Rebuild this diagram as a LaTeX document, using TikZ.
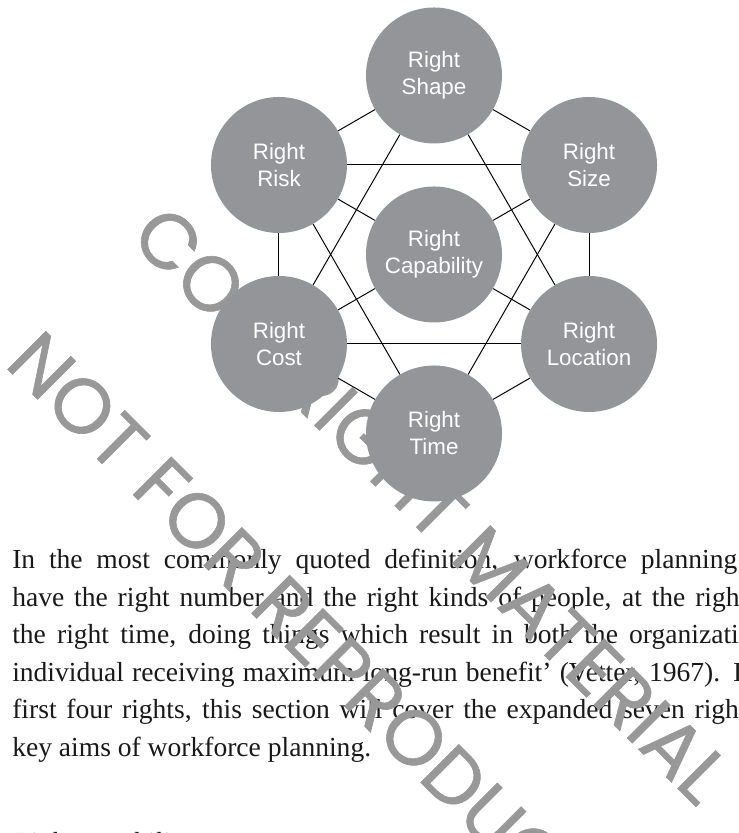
\documentclass[tikz,border=0pt]{standalone}
\usepackage{fontspec}
\setmainfont{Liberation Serif}
\newfontfamily\labelfont{Liberation Sans}
\newfontfamily\markfont{Poppins}[FakeBold=0.8]
\definecolor{discgray}{RGB}{147,149,152}
\definecolor{markgray}{RGB}{152,152,152}
\begin{document}
\begin{tikzpicture}[
    disc/.style={circle, fill=discgray, minimum size=3.4cm, inner sep=0pt,
        text=white, align=center, font=\labelfont\fontsize{15.9}{19.2}\selectfont},
    link/.style={black, line width=0.7pt},
    bodyline/.style={anchor=base west, inner sep=0pt, text=black!90,
        font=\fontsize{19.6}{26.6}\selectfont},
    stamp/.style={anchor=base west, inner sep=0pt, rotate=-45, text=markgray,
        font=\markfont\fontsize{55}{60}\selectfont}
]
    \useasboundingbox (0,0) rectangle (18.45,20.825);
    \clip (0,0) rectangle (18.45,20.825);

    % Paragraph under the figure (runs off the right edge)
    \node[bodyline] (line1) at (0.3,6.6)    {\makebox[18.125cm][s]{In the most commonly quoted definition, workforce planning}};
    \node[bodyline] (line2) at (0.3,5.6625) {\makebox[18.375cm][s]{have the right number and the right kinds of people, at the right}};
    \node[bodyline] (line3) at (0.3,4.725)  {\makebox[18.85cm][s]{the right time, doing things which result in both the organization}};
    \node[bodyline] (line4) at (0.3,3.7875) {\makebox[18.25cm][s]{individual receiving maximum long-run benefit’ (Vetter, 1967). I}};
    \node[bodyline] (line5) at (0.3,2.85)   {\makebox[18.625cm][s]{first four rights, this section will cover the expanded seven rights}};
    \node[bodyline] (line6) at (0.3,1.9125) {key aims of workforce planning.};
    \node[bodyline, font=\itshape\fontsize{19.6}{26.6}\selectfont] (head) at (0.3,-0.45) {Right capability};

    % Stamp across the page
    \node[stamp] (mark1) at (3.2,14.85)  {COPYRIGHT MATERIAL};
    \node[stamp] (mark2) at (0.08,11.7)  {NOT FOR REPRODUCTION};

    % The seven rights
    \begin{scope}[shift={(10.85,14.4625)}]
        \node[disc] (capability) at (0,0)       {Right\\Capability};
        \node[disc] (shape)      at (90:4.475)  {Right\\Shape};
        \node[disc] (size)       at (30:4.475)  {Right\\Size};
        \node[disc] (location)   at (-30:4.475) {Right\\Location};
        \node[disc] (time)       at (-90:4.475) {Right\\Time};
        \node[disc] (cost)       at (210:4.475) {Right\\Cost};
        \node[disc] (risk)       at (150:4.475) {Right\\Risk};
    \end{scope}

    % Ring, the two triangles, and the spokes to the centre
    \foreach \a/\b in {shape/size, size/location, location/time, time/cost, cost/risk, risk/shape,
                       shape/location, location/cost, cost/shape,
                       size/time, time/risk, risk/size,
                       capability/risk, capability/size, capability/cost, capability/location}
        \draw[link] (\a) -- (\b);
\end{tikzpicture}
\end{document}
